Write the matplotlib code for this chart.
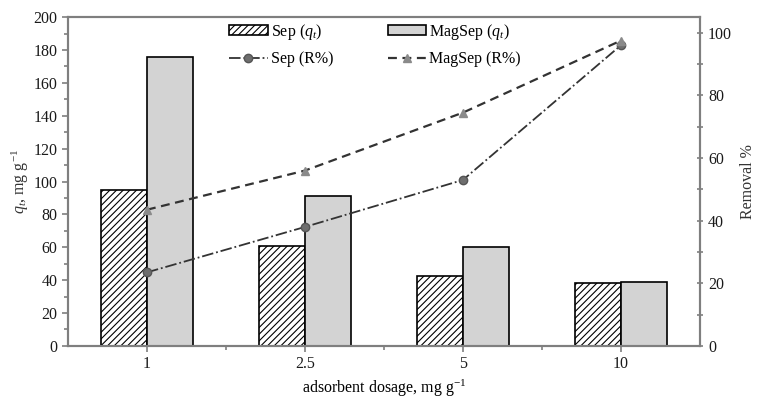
import numpy as np
import matplotlib
matplotlib.use("Agg")
import matplotlib.pyplot as plt
from matplotlib.ticker import MultipleLocator

plt.rcParams['font.family'] = ['Liberation Serif', 'DejaVu Serif']
plt.rcParams['mathtext.fontset'] = 'custom'
plt.rcParams['mathtext.rm'] = 'Liberation Serif'
plt.rcParams['mathtext.it'] = 'Liberation Serif:italic'
plt.rcParams['hatch.linewidth'] = 0.8

dosage = ['1', '2.5', '5', '10']
sep_qt = [95, 61, 42.5, 38.5]
magsep_qt = [175.5, 91, 60, 39]
sep_removal = [23.5, 38, 53, 96]
magsep_removal = [43.5, 56, 74.5, 97.5]

axis_grey = '#7f7f7f'
fs = 11.5
x = np.arange(len(dosage))
w = 0.29

fig = plt.figure(figsize=(7.59, 3.99), dpi=100)
ax = fig.add_axes([0.0896, 0.133, 0.8324, 0.824])

b1 = ax.bar(x - w / 2, sep_qt, w, color='white', edgecolor='black',
            hatch='/////', linewidth=1.2, label=r'Sep ($q_t$)')
b2 = ax.bar(x + w / 2, magsep_qt, w, color='#d3d3d3', edgecolor='black',
            linewidth=1.2, label=r'MagSep ($q_t$)')
ax.set_xlim(-0.5, 3.5)
ax.set_ylim(0, 200)
ax.set_xticks(x)
ax.set_xticklabels(dosage)
ax.set_xticks(x[:-1] + 0.5, minor=True)
ax.yaxis.set_major_locator(MultipleLocator(20))
ax.yaxis.set_minor_locator(MultipleLocator(10))
ax.set_ylabel(r'$q_t$, mg g$^{-1}$', fontsize=fs, color='#333333', labelpad=2)
ax.set_xlabel(r'adsorbent dosage, mg g$^{-1}$', fontsize=fs, labelpad=4)

ax2 = ax.twinx()
l1, = ax2.plot(x, sep_removal, linestyle='-.', color='#333333', lw=1.3,
               marker='o', markersize=6, markerfacecolor='#6e6e6e',
               markeredgecolor='#555555', label='Sep (R%)')
l2, = ax2.plot(x, magsep_removal, linestyle='--', color='#333333', lw=1.6,
               dashes=(4, 2.5), marker='^', markersize=6,
               markerfacecolor='#8a8a8a', markeredgecolor='#8a8a8a',
               label='MagSep (R%)')
ax2.set_ylim(0, 105)
ax2.yaxis.set_major_locator(MultipleLocator(20))
ax2.yaxis.set_minor_locator(MultipleLocator(10))
ax2.set_ylabel('Removal %', fontsize=fs, color='#333333', labelpad=6)

for a in (ax, ax2):
    for s in a.spines.values():
        s.set_color(axis_grey)
        s.set_linewidth(1.5)
    a.tick_params(which='both', colors=axis_grey, labelcolor='#1a1a1a',
                  labelsize=fs, direction='out')
    a.tick_params(which='major', length=4, width=1.2)
    a.tick_params(which='minor', length=3, width=1.2)
ax2.tick_params(which='both', direction='inout', length=5)

ax.legend([b1, l1, b2, l2],
          [r'Sep ($q_t$)', 'Sep (R%)', r'MagSep ($q_t$)', 'MagSep (R%)'],
          ncol=2, loc='upper center', bbox_to_anchor=(0.486, 1.03),
          frameon=False, fontsize=fs, columnspacing=3.4, handlelength=2.4,
          handleheight=0.5, handletextpad=0.2, labelspacing=0.6)

fig.savefig('out.png', dpi=100)
